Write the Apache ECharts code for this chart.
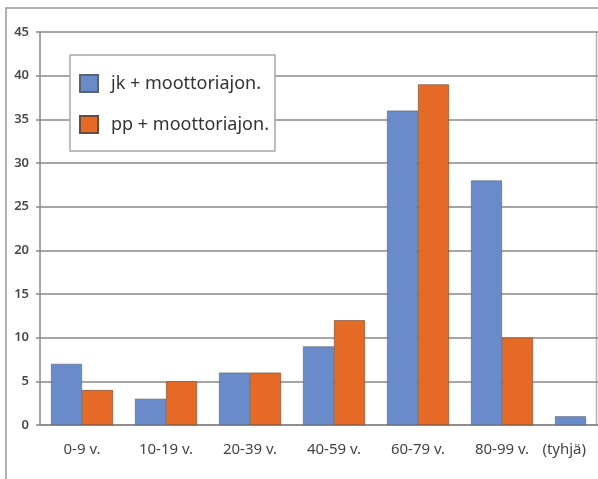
<!DOCTYPE html>
<html>
<head>
<meta charset="utf-8">
<script src="https://cdn.jsdelivr.net/npm/echarts@6/dist/echarts.min.js"></script>
<style>
  html, body { margin: 0; padding: 0; background: #fff; }
  #chart { width: 598px; height: 479px; }
</style>
</head>
<body>
<div id="chart"></div>
<script>
// Age groups and counts per road-user pairing
const categories = ['0-9 v.', '10-19 v.', '20-39 v.', '40-59 v.', '60-79 v.', '80-99 v.', '(tyhjä)'];
const jkValues = [7, 3, 6, 9, 36, 28, 1];
const ppValues = [4, 5, 6, 12, 39, 10, null];
const seriesNames = ['jk + moottoriajon.', 'pp + moottoriajon.'];
const yTicks = { min: 0, max: 45, interval: 5 };

const chart = echarts.init(document.getElementById('chart'), null, { renderer: 'canvas' });
const FONT = '"Noto Sans", "Open Sans", sans-serif';
const LINE = '#8a8787';

chart.setOption({
  backgroundColor: '#fff',
  animation: false,
  // plotting area runs a little past the right edge of the canvas
  grid: { left: 40, top: 32, width: 588, height: 393, containLabel: false, outerBoundsMode: 'none' },
  legend: {
    orient: 'vertical',
    left: 70,
    top: 55,
    padding: [19, 6, 17, 9],
    itemGap: 22,
    itemWidth: 18,
    itemHeight: 17,
    icon: 'rect',
    backgroundColor: '#fff',
    borderColor: '#a9a6a6',
    borderWidth: 1.5,
    textStyle: { fontFamily: FONT, fontSize: 18, color: '#333', padding: [0, 0, 0, 8] },
    data: seriesNames
  },
  xAxis: {
    type: 'category',
    data: categories,
    axisLine: { lineStyle: { color: LINE, width: 1.5 } },
    axisTick: { show: false },
    axisLabel: { fontFamily: FONT, fontSize: 15, color: '#444', margin: 17, alignMaxLabel: 'right' }
  },
  yAxis: {
    type: 'value',
    min: yTicks.min,
    max: yTicks.max,
    interval: yTicks.interval,
    axisLine: { show: true, lineStyle: { color: LINE, width: 1.5 } },
    axisTick: { show: true, length: 4, lineStyle: { color: LINE, width: 1.5 } },
    axisLabel: { fontFamily: FONT, fontSize: 13, fontWeight: 600, color: '#4a4a4a', margin: 11 },
    splitLine: { lineStyle: { color: LINE, width: 1.5 } }
  },
  series: [
    {
      name: seriesNames[0],
      type: 'bar',
      data: jkValues,
      barWidth: 31,
      barGap: '0%',
      itemStyle: { color: '#6a8bca', borderColor: '#5b6270', borderWidth: 0.6 }
    },
    {
      name: seriesNames[1],
      type: 'bar',
      data: ppValues,
      barWidth: 31,
      barGap: '0%',
      itemStyle: { color: '#e56a25', borderColor: '#6b4a3a', borderWidth: 0.6 }
    }
  ],
  graphic: [
    // outer frame around the whole figure
    {
      type: 'rect',
      shape: { x: 6, y: 8, width: 620, height: 500 },
      style: { fill: 'none', stroke: '#9a9797', lineWidth: 1.5 },
      silent: true
    },
    // right edge of the plotting area
    {
      type: 'line',
      shape: { x1: 596.5, y1: 32, x2: 596.5, y2: 425 },
      style: { stroke: '#b5b2b2', lineWidth: 1.5 },
      silent: true
    }
  ]
});
</script>
</body>
</html>
